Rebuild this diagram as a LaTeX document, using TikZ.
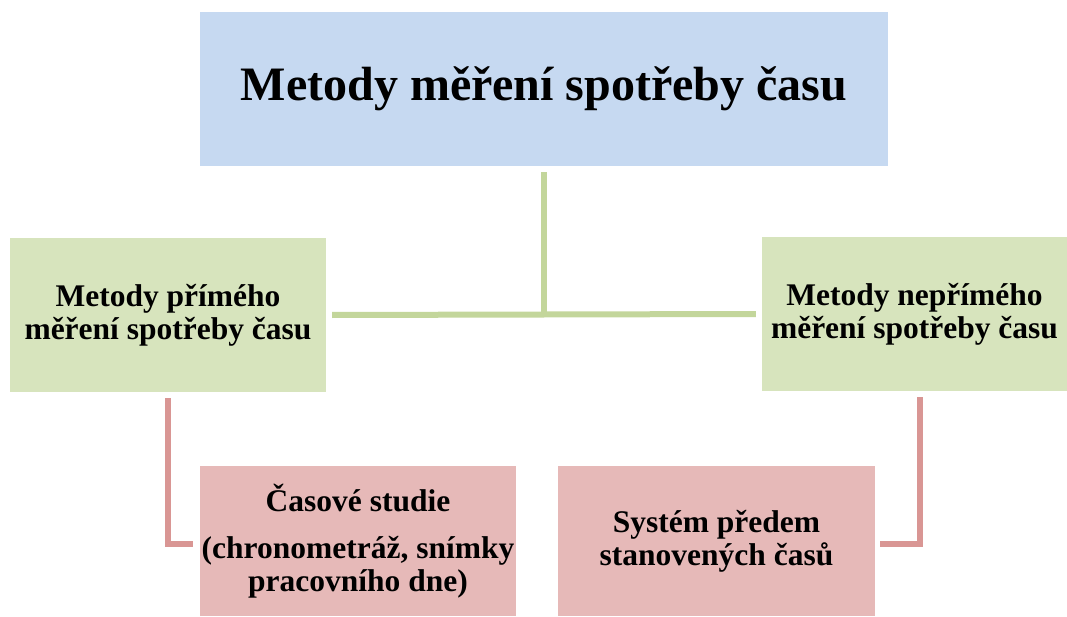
\documentclass[tikz,border=0pt]{standalone}
\usepackage{fontspec}
\setmainfont{Liberation Serif}
\usetikzlibrary{calc}
\definecolor{topfill}{HTML}{C6D9F1}
\definecolor{midfill}{HTML}{D7E4BD}
\definecolor{midline}{HTML}{C3D69B}
\definecolor{lowfill}{HTML}{E6B9B8}
\definecolor{lowline}{HTML}{D99694}
\tikzset{
  box/.style={rectangle, inner sep=0pt, align=center, font=\bfseries\fontsize{31.5}{33}\selectfont},
  topbox/.style={box, fill=topfill, minimum width=688pt, minimum height=154pt, font=\bfseries\fontsize{48}{56}\selectfont},
  midbox/.style={box, fill=midfill, minimum height=154pt},
  lowbox/.style={box, fill=lowfill, minimum height=150pt},
  gline/.style={draw=midline, line width=6pt},
  pline/.style={draw=lowline, line width=6pt},
}
\begin{document}
\begin{tikzpicture}[x=1pt,y=-1pt]
\useasboundingbox (0,0) rectangle (1067,617);
% boxes
\node[topbox] (top) at (544,89) {Metody měření spotřeby času};
\node[midbox, minimum width=316pt] (lft) at (168,315) {Metody přímého\\měření spotřeby času};
\node[midbox, minimum width=305pt] (rgt) at (914.5,314) {Metody nepřímého\\měření spotřeby času};
\node[lowbox, minimum width=316pt] (pl) at (358,541) {Časové studie\\[14pt](chronometráž, snímky\\pracovního dne)};
\node[lowbox, minimum width=317pt] (pr) at (716.5,541) {Systém předem\\stanovených časů};
% green tree lines
\draw[gline] ([yshift=-6pt]top.south) -- (top.south |- lft.east);
\draw[gline] ([xshift=6pt]lft.east) -- ([xshift=-6pt]rgt.west);
% pink elbow lines
\draw[pline] ([yshift=-6pt]lft.south) |- ([xshift=-7pt,yshift=-3pt]pl.west);
\draw[pline] ([xshift=5pt,yshift=-6pt]rgt.south) |- ([xshift=5pt,yshift=-2.5pt]pr.east);
\end{tikzpicture}
\end{document}
